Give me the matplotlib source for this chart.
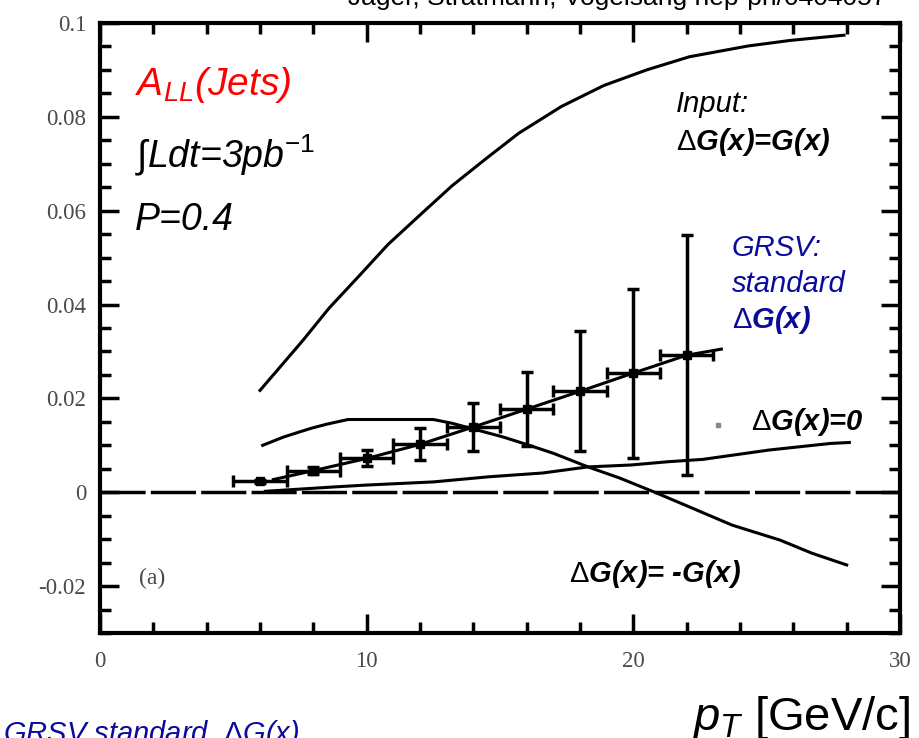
import matplotlib
matplotlib.use("Agg")
import matplotlib.pyplot as plt
from matplotlib.ticker import MultipleLocator
import numpy as np

plt.rcParams['font.family'] = ['Liberation Sans', 'DejaVu Sans']
plt.rcParams['mathtext.fontset'] = 'custom'
plt.rcParams['mathtext.rm'] = 'Liberation Sans'
plt.rcParams['mathtext.it'] = 'Liberation Sans:italic'
plt.rcParams['mathtext.bf'] = 'Liberation Sans:bold'
plt.rcParams['axes.unicode_minus'] = False

#%% data
# input dG(x)=G(x)
pt_input = [6.0, 7.6, 8.6, 9.7, 10.8, 12.1, 13.2, 14.5, 15.7, 17.3, 18.9, 20.5, 22.1, 24.3, 25.9, 27.9]
all_input = [0.0217, 0.0323, 0.0393, 0.0460, 0.0528, 0.0596, 0.0653, 0.0712, 0.0765,
             0.0822, 0.0867, 0.0900, 0.0928, 0.0951, 0.0963, 0.0974]

# dG(x)=0
pt_zero = [6.2, 8.7, 9.9, 12.5, 14.6, 16.6, 18.3, 19.9, 21.3, 22.6, 25.1, 27.4, 28.1]
all_zero = [0.0002, 0.0011, 0.0015, 0.0022, 0.0033, 0.0041, 0.0054, 0.0058, 0.0065,
            0.0070, 0.0090, 0.0104, 0.0106]

# dG(x)=-G(x)
pt_neg = [6.1, 6.9, 7.9, 8.5, 9.3, 12.5, 13.2, 15.1, 16.1, 17.0, 18.3, 19.5, 20.8,
          21.8, 23.7, 25.5, 26.7, 28.0]
all_neg = [0.0100, 0.0118, 0.0136, 0.0145, 0.0155, 0.0155, 0.0147, 0.0118, 0.0100,
           0.0083, 0.0054, 0.0030, 0.0000, -0.0024, -0.0070, -0.0102, -0.0130, -0.0155]

# GRSV standard curve + projected data
pt_grsv = [6.5, 8, 10, 12, 14, 16, 18, 20, 22, 23.3]
all_grsv = [0.0027, 0.0046, 0.0072, 0.0102, 0.0139, 0.0177, 0.0215, 0.0254, 0.0292, 0.0305]

pt_data = [6, 8, 10, 12, 14, 16, 18, 20, 22]
all_data = [0.0023, 0.0046, 0.0072, 0.0102, 0.0139, 0.0177, 0.0215, 0.0254, 0.0292]
err_y = [0.0003, 0.0008, 0.0017, 0.0034, 0.0052, 0.0079, 0.0128, 0.0180, 0.0256]
err_x = [1, 1, 1, 1, 1, 1, 1, 1, 1]

xticks = [0, 10, 20, 30]
xticklabels = ['0', '10', '20', '30']
yticks = [-0.02, 0, 0.02, 0.04, 0.06, 0.08, 0.1]
yticklabels = ['-0.02', '0', '0.02', '0.04', '0.06', '0.08', '0.1']

blue = '#0a0a9c'

#%% figure
fig = plt.figure(figsize=(9.2, 7.38), dpi=100)
ax = fig.add_axes([100/920, 105/738, 800/920, 610/738])

ax.plot(pt_input, all_input, color='black', lw=2.2)
ax.plot(pt_zero, all_zero, color='black', lw=2.2)
ax.plot(pt_neg, all_neg, color='black', lw=2.2)
ax.plot(pt_grsv, all_grsv, color='black', lw=2.2)
ax.errorbar(pt_data, all_data, xerr=err_x, yerr=err_y, fmt='s', color='black',
            ms=5.5, lw=2.5, capsize=4, capthick=2.5)
ax.axhline(0, color='black', lw=2.5, dashes=(13, 1.5))

ax.set_xlim(0, 30)
ax.set_ylim(-0.03, 0.1)
ax.set_xticks(xticks)
ax.set_xticklabels(xticklabels)
ax.set_yticks(yticks)
ax.set_yticklabels(yticklabels)
ax.xaxis.set_minor_locator(MultipleLocator(2))
ax.yaxis.set_minor_locator(MultipleLocator(0.005))
ax.tick_params(which='both', direction='in', top=True, right=True, width=2.5,
               labelsize=16.5, labelcolor='#4a4a4a')
ax.tick_params(which='major', length=14)
ax.tick_params(which='minor', length=8)
ax.tick_params(axis='x', pad=13)
ax.tick_params(axis='y', pad=10)
for lab in ax.get_xticklabels() + ax.get_yticklabels():
    lab.set_family('Liberation Serif')
for sp in ax.spines.values():
    sp.set_linewidth(3)

# labels inside
ax.text(1.3, 0.0847, r'A$_{\mathit{LL}}$(Jets)', color='red', style='italic', size=28)
ax.text(1.3, 0.0693, r'∫Ldt=3pb$^{\mathit{-1}}$', style='italic', size=27)
ax.text(1.3, 0.0559, 'P=0.4', style='italic', size=27)
ax.text(21.6, 0.0810, 'Input:', style='italic', size=21)
ax.text(21.6, 0.0729, r'$\Delta$G(x)=G(x)', style='italic', weight='bold', size=21)
ax.text(23.7, 0.0503, 'GRSV:', style='italic', size=21, color=blue)
ax.text(23.7, 0.0426, 'standard', style='italic', size=21, color=blue)
ax.text(23.7, 0.0350, r'$\Delta$G(x)', style='italic', weight='bold', size=21, color=blue)
ax.text(24.4, 0.0132, r'$\Delta$G(x)=0', style='italic', weight='bold', size=21)
ax.text(17.6, -0.0192, r'$\Delta$G(x)= -G(x)', style='italic', weight='bold', size=21)
ax.text(1.45, -0.0183, '(a)', family='Liberation Serif', size=17, color='#4a4a4a', va='center')
ax.plot([23.17], [0.0143], 's', color='#888888', ms=2.5)

# labels outside
fig.text(0.671, 1 - 5/738, 'Jäger, Stratmann, Vogelsang hep-ph/0404057', ha='center',
         va='baseline', size=19)
fig.text(0.003, -4/738, r'GRSV standard  $\Delta$G(x)', style='italic', size=21,
         color=blue, va='baseline')
fig.text(0.989, 8/738, r'$\mathit{p}_{\mathit{T}}$ [GeV/c]', ha='right', va='baseline', size=34)

fig.savefig('out.png', dpi=100)
